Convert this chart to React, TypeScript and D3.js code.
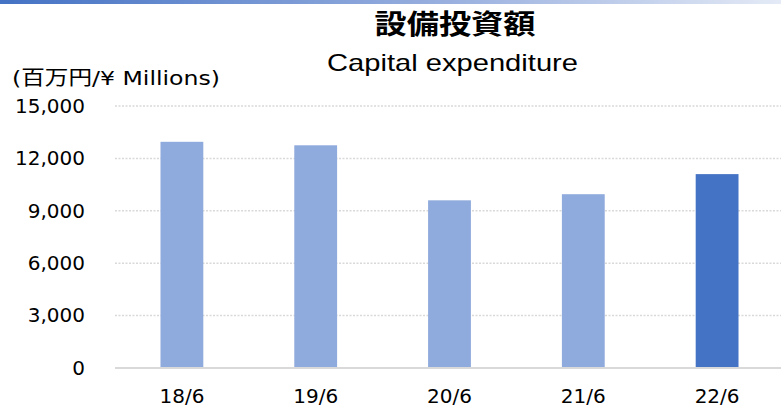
import React from 'react';
import * as d3 from 'd3';

// Capital expenditure (¥ millions)
const periods = ['18/6', '19/6', '20/6', '21/6', '22/6'];
const capex = [12950, 12750, 9600, 9950, 11100];
const yTicks = [0, 3000, 6000, 9000, 12000, 15000];
const highlightPeriod = '22/6';

const titleJa = '設備投資額';
const titleEn = 'Capital expenditure';
const unitLabel = '(百万円/¥ Millions)';

export default function App() {
  // Vars for dimensions
  const width = 781;
  const height = 409;
  const plot = { left: 115, right: 784, top: 106, bottom: 368 };

  // Create scales
  const xScale = d3.scaleBand<string>()
    .domain(periods)
    .range([plot.left, plot.right])
    .paddingInner(0.68)
    .paddingOuter(0.34);

  const yScale = d3.scaleLinear()
    .domain([0, 15000])
    .range([plot.bottom, plot.top]);

  const fmt = d3.format(',');
  const tickFont = '"DejaVu Sans", Verdana, sans-serif';

  return (
    <svg
      width={width}
      height={height}
      viewBox={`0 0 ${width} ${height}`}
      style={{ position: 'absolute', left: 0, top: 0, background: '#fff' }}
    >
      <defs>
        <linearGradient id="topBand" x1="0" x2="1" y1="0" y2="0">
          <stop offset="0%" stopColor="#4472C4" />
          <stop offset="60%" stopColor="#9DB3E0" />
          <stop offset="100%" stopColor="#E4EAF6" />
        </linearGradient>
      </defs>

      {/* thin banner along the top edge */}
      <rect x={0} y={0} width={width} height={4} fill="url(#topBand)" />

      {/* Titles */}
      <text
        x={455}
        y={34}
        textAnchor="middle"
        fontFamily='"Noto Sans CJK JP", sans-serif'
        fontWeight="bold"
        fontSize={27}
        textLength={161}
        lengthAdjust="spacingAndGlyphs"
        fill="#000"
      >
        {titleJa}
      </text>
      <text
        x={452.5}
        y={71}
        textAnchor="middle"
        fontFamily='"Liberation Sans", Arial, sans-serif'
        fontSize={24}
        textLength={251}
        lengthAdjust="spacingAndGlyphs"
        fill="#000"
      >
        {titleEn}
      </text>

      {/* Unit label */}
      <text
        x={12}
        y={85}
        fontFamily='"DejaVu Sans", "Noto Sans CJK JP", sans-serif'
        fontSize={20}
        textLength={208}
        lengthAdjust="spacingAndGlyphs"
        fill="#000"
      >
        {unitLabel}
      </text>

      {/* Y gridlines - dotted, drawn first so bars sit on top */}
      {yTicks.filter(t => t > 0).map(t => (
        <line
          key={`g${t}`}
          x1={plot.left}
          x2={width}
          y1={yScale(t)}
          y2={yScale(t)}
          stroke="#D9D9D9"
          strokeWidth={1.5}
          strokeDasharray="2 1.5"
        />
      ))}

      {/* Y tick labels */}
      {yTicks.map(t => (
        <text
          key={`t${t}`}
          x={85}
          y={yScale(t)}
          dy="0.34em"
          textAnchor="end"
          fontFamily={tickFont}
          fontSize={20}
          fill="#000"
        >
          {fmt(t)}
        </text>
      ))}

      {/* Bars */}
      {periods.map((p, i) => (
        <rect
          key={p}
          x={xScale(p)}
          y={yScale(capex[i])}
          width={xScale.bandwidth()}
          height={yScale(0) - yScale(capex[i])}
          fill={p === highlightPeriod ? '#4472C4' : '#8FAADC'}
        />
      ))}

      {/* Baseline axis */}
      <line
        x1={plot.left}
        x2={width}
        y1={yScale(0)}
        y2={yScale(0)}
        stroke="#D9D9D9"
        strokeWidth={2}
      />

      {/* X labels */}
      {periods.map(p => (
        <text
          key={`x${p}`}
          x={(xScale(p) ?? 0) + xScale.bandwidth() / 2}
          y={403}
          textAnchor="middle"
          fontFamily={tickFont}
          fontSize={20}
          fill="#000"
        >
          {p}
        </text>
      ))}
    </svg>
  );
}
